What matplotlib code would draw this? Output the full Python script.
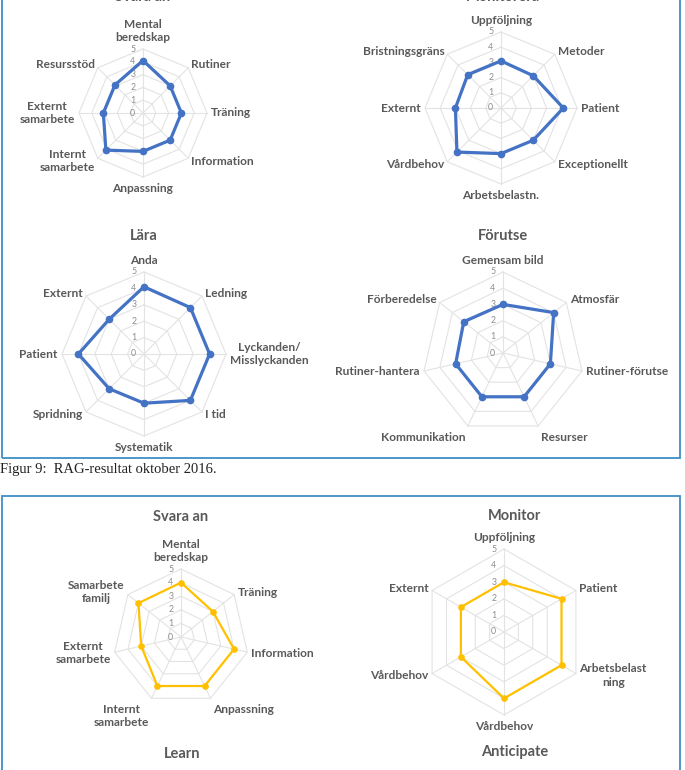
import numpy as np
import matplotlib.pyplot as plt
from matplotlib.patches import Rectangle

# --- data ---
svara_labels = ['Mental\nberedskap', 'Rutiner', 'Träning', 'Information', 'Anpassning',
                'Internt\nsamarbete', 'Externt\nsamarbete', 'Resursstöd']
svara_vals = [4.1, 3.0, 3.0, 3.0, 3.0, 4.1, 3.1, 3.1]

monit_labels = ['Uppföljning', 'Metoder', 'Patient', 'Exceptionellt', 'Arbetsbelastn.',
                'Vårdbehov', 'Externt', 'Bristningsgräns']
monit_vals = [3.1, 3.0, 4.1, 3.0, 3.0, 4.1, 3.0, 3.1]

lara_labels = ['Anda', 'Ledning', 'Lyckanden/\nMisslyckanden', 'I tid', 'Systematik',
               'Spridning', 'Patient', 'Externt']
lara_vals = [4.1, 4.0, 4.0, 4.0, 3.0, 3.0, 4.0, 3.0]

forutse_labels = ['Gemensam bild', 'Atmosfär', 'Rutiner-förutse', 'Resurser',
                  'Kommunikation', 'Rutiner-hantera', 'Förberedelse']
forutse_vals = [3.0, 4.0, 3.0, 3.0, 3.0, 3.0, 3.1]

svara2_labels = ['Mental\nberedskap', 'Träning', 'Information', 'Anpassning',
                 'Internt\nsamarbete', 'Externt\nsamarbete', 'Samarbete\nfamilj']
svara2_vals = [4.0, 3.0, 4.0, 4.0, 4.0, 3.0, 4.0]

monit2_labels = ['Uppföljning', 'Patient', 'Arbetsbelast\nning', 'Vårdbehov',
                 'Vårdbehov', 'Externt']
monit2_vals = [3.0, 4.0, 4.0, 4.0, 3.0, 3.0]

ticks = [0, 1, 2, 3, 4, 5]

BLUE = '#4472C4'
YELLOW = '#FFC000'
GREY = '#595959'
GRID = '#e3e3e3'
FONT = ['Lato', 'DejaVu Sans']

W, H = 685, 770
fig = plt.figure(figsize=(W / 100, H / 100), dpi=100)


def radar(cx, cy, R, labels, vals, color, lw, ms):
    # axes placed by pixel centre / radius
    ax = fig.add_axes([(cx - R) / W, 1 - (cy + R) / H, 2 * R / W, 2 * R / H],
                      projection='polar')
    ax.set_theta_zero_location('N')
    ax.set_theta_direction(-1)
    ax.set_ylim(0, 5)
    ax.set_axis_off()
    n = len(labels)
    th = np.linspace(0, 2 * np.pi, n, endpoint=False)
    thc = np.append(th, th[0])
    for lev in ticks[1:]:
        ax.plot(thc, [lev] * (n + 1), color=GRID, lw=0.8, zorder=1, clip_on=False)
    for t in th:
        ax.plot([t, t], [0, 5], color=GRID, lw=0.8, zorder=1, clip_on=False)
    for lev in ticks:
        ax.annotate(str(lev), xy=(0, lev), xytext=(-5.5, 0), textcoords='offset points',
                    ha='right', va='center', fontsize=6.3, color='#8c8c8c',
                    family=FONT, zorder=2)
    v = np.append(vals, vals[0])
    ax.plot(thc, v, color=color, lw=lw, zorder=3, clip_on=False)
    ax.plot(th, vals, 'o', color=color, ms=ms, zorder=4, clip_on=False)
    for t, lab in zip(th, labels):
        s, c = np.sin(t), np.cos(t)
        ha = 'left' if s > 0.1 else ('right' if s < -0.1 else 'center')
        va = 'bottom' if c > 0.9 else ('top' if c < -0.9 else 'center')
        off = 4.5 if abs(c) > 0.9 else 3.0
        ax.annotate(lab, xy=(t, 5), xytext=(off * s, off * c), textcoords='offset points',
                    ha=ha, va=va, multialignment='center', fontsize=8.6,
                    fontweight='bold', color=GREY, family=FONT, linespacing=1.25,
                    annotation_clip=False)
    return ax


def title(x, y, s):
    fig.text(x / W, 1 - y / H, s, ha='center', va='center', fontsize=10.5,
             fontweight='bold', color=GREY, family=FONT)


# boxes
for y0, y1 in [(-5, 458), (496, 780)]:
    fig.patches.append(Rectangle((2 / W, 1 - y1 / H), 678 / W, (y1 - y0) / H,
                                 transform=fig.transFigure, fill=False,
                                 edgecolor='#3d8fc6', lw=1.3, clip_on=False))

# top box (oktober 2016)
title(143, -3, 'Svara an')
radar(143, 113, 64, svara_labels, svara_vals, BLUE, 2.3, 4.5)
title(503, -3, 'Monitorera')
radar(501, 108, 76, monit_labels, monit_vals, BLUE, 2.3, 4.5)
title(144, 236, 'Lära')
radar(144, 354, 82, lara_labels, lara_vals, BLUE, 2.3, 4.5)
title(503, 236, 'Förutse')
radar(503, 353, 81, forutse_labels, forutse_vals, BLUE, 2.3, 4.5)

fig.text(0.5 / W, 1 - 469 / H, 'Figur 9:  RAG-resultat oktober 2016.', ha='left',
         va='center', fontsize=10.5, family='Liberation Serif', color='#222222')

# second box
title(181, 517, 'Svara an')
radar(181, 637, 68, svara2_labels, svara2_vals, YELLOW, 1.6, 3.8)
title(515, 516, 'Monitor')
radar(504, 632, 83, monit2_labels, monit2_vals, YELLOW, 1.6, 3.8)
title(182, 754, 'Learn')
title(515, 752, 'Anticipate')

fig.savefig('out.png', dpi=100, facecolor='white')
